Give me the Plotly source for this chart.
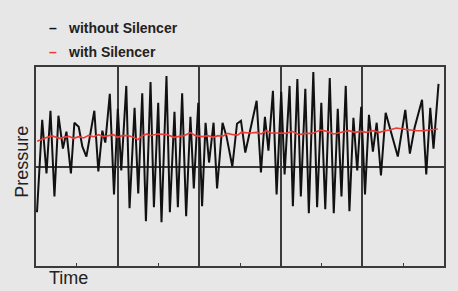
import plotly.graph_objects as go

# ---- data ----
time_without = [0.24, 1.52, 2.57, 3.55, 4.52, 5.50, 6.60, 7.46, 8.56, 9.41, 10.46, 11.37, 12.35, 14.30, 15.28,
                16.26, 16.99, 18.09, 19.12, 20.05,
                20.90, 22.13, 22.93, 24.16, 25.06, 26.04, 26.94, 28.07, 28.90, 29.95, 30.76, 31.98, 32.81,
                33.94, 34.77, 35.82, 36.80, 37.85, 38.68, 39.78, 40.71,
                41.56, 42.42, 43.52, 44.38, 45.72, 46.70, 48.12, 49.27, 50.24, 51.30, 54.08, 55.13, 56.11,
                56.97, 58.07, 58.97, 60.10,
                60.93, 62.15, 62.96, 64.06, 64.91, 66.01, 66.87, 67.97, 68.90, 69.93, 70.90, 72.00, 72.98,
                73.96, 74.87, 75.92, 76.82, 77.80, 78.73, 79.71, 80.64,
                81.61, 82.57, 83.50, 84.55, 85.70, 88.68, 90.51, 91.64, 92.79, 94.62, 95.65, 96.63, 97.43, 98.66]
pressure_without = [-46, 47, -7, 56, -30, 51, 18, 35, -7, 44, 40, 20, 10, 56, -5,
                    36, 24, 73, -28, 58,
                    -4, 81, -42, 59, -27, 73.5, -55, 85, -41, 64, -56, 91, -46,
                    55, -41, 73.5, -50, 50, -22, 64, -40,
                    44, 4, 44, -22, 44, 30, 0, 43, 46, 14, 66, -6, 50,
                    16, 76, -28, 75,
                    -8, 81, -40, 88, -30, 78, -47, 95, -41, 64, -43, 89, -47,
                    58, -30, 81, -45, 49, -4, 60, -28,
                    52, 15, 44, -9, 54, 10, 57, 13, 39, 67, -8, 59, 18, 83]

time_with = [0.29, 1.52, 2.74, 3.96, 4.77, 5.75, 6.80, 8.02, 9.24, 10.46, 11.69, 12.91, 14.13, 15.35, 16.58,
             17.80, 19.02, 19.93, 21.15, 22.37, 23.59, 24.99, 26.04, 27.26, 28.07, 29.71, 31.34, 32.15,
             33.79, 35.01, 36.23, 37.85, 39.07, 40.71, 42.18, 43.40, 44.62, 45.84, 47.07, 48.29, 49.51,
             50.32, 51.54, 52.76, 53.99, 55.21, 56.43, 57.65, 59.29, 61.17, 62.79, 64.43, 66.06, 67.68,
             69.73, 71.34, 72.98, 74.62, 76.65, 78.29, 79.51, 80.98, 82.59, 84.23, 85.45, 86.67, 88.31,
             89.93, 91.56, 93.20, 94.82, 96.45, 98.48]
pressure_with = [25.3, 27.7, 29.3, 30.7, 29.3, 28.3, 29.3, 30.3, 28.3, 30, 28.7, 31.3, 30, 32, 30,
                 31, 32, 29.3, 31, 31, 30, 27, 31, 32.7, 31, 32.7, 32, 32,
                 29.3, 30, 31, 34, 31, 30, 31, 29.3, 31, 30.7, 33.3, 32, 31.7,
                 34.3, 33.7, 33.7, 34.3, 32.7, 36, 33.7, 33.7, 33.3, 35.3, 32, 33.3, 33.3,
                 36.7, 35.3, 32.7, 34.3, 36, 34.3, 35.3, 34.3, 36, 34.3, 36, 36.7, 38.7,
                 37.7, 36.7, 36, 36, 36.7, 37.7]

grid_positions = [20, 40, 60, 80]
tick_positions = [10, 30, 50, 70, 90]
series_names = ["without Silencer", "with Silencer"]
series_colors = ["#111111", "#ee3a32"]

BG = "#e7e7e7"
FRAME = "#3a3a3a"
FONT = "Arial, Liberation Sans, sans-serif"

fig = go.Figure()
fig.add_trace(go.Scatter(x=time_without, y=pressure_without, mode="lines", name=series_names[0],
                         line=dict(color=series_colors[0], width=2), showlegend=False))
fig.add_trace(go.Scatter(x=time_with, y=pressure_with, mode="lines", name=series_names[1],
                         line=dict(color=series_colors[1], width=1.6), showlegend=False))

fig.update_layout(
    width=458, height=291,
    margin=dict(l=36, r=12, t=67, b=25),
    paper_bgcolor=BG, plot_bgcolor=BG,
    font=dict(family=FONT, color="#222222"),
    xaxis=dict(range=[0, 100], showline=True, mirror=True, linecolor=FRAME, linewidth=1.6,
               tickvals=grid_positions, showgrid=True, gridcolor=FRAME, gridwidth=1.6,
               ticks="", showticklabels=False, zeroline=False,
               minor=dict(tickvals=tick_positions, ticks="inside", ticklen=3, tickwidth=1.4,
                          tickcolor=FRAME, showgrid=False)),
    yaxis=dict(range=[-100, 100], showline=True, mirror=True, linecolor=FRAME, linewidth=1.6,
               tickvals=[0], showgrid=True, gridcolor=FRAME, gridwidth=1.6,
               ticks="", showticklabels=False, zeroline=False),
    showlegend=False,
)

annotations = [
    dict(text="Pressure", textangle=-90, xref="paper", yref="paper", x=-0.033, y=0.522,
         xanchor="center", yanchor="middle", showarrow=False, font=dict(size=18, family=FONT, color="#222")),
    dict(text="Time", xref="paper", yref="paper", x=0.027, y=-0.06,
         xanchor="left", yanchor="middle", showarrow=False, font=dict(size=18, family=FONT, color="#222")),
]
legend_y = [1.1945, 1.074]
for name, color, yy in zip(series_names, series_colors, legend_y):
    annotations.append(dict(text="<b>–</b>", xref="paper", yref="paper", x=0.0415, y=yy,
                            xanchor="center", yanchor="middle", showarrow=False,
                            font=dict(size=14, family=FONT, color=color)))
    annotations.append(dict(text="<b>" + name + "</b>", xref="paper", yref="paper", x=0.073, y=yy,
                            xanchor="left", yanchor="middle", showarrow=False,
                            font=dict(size=14, family=FONT, color="#222")))
fig.update_layout(annotations=annotations)

fig.write_html("out.html", config={"displayModeBar": False},
               post_script="document.body.style.margin='0';document.body.style.padding='0';"
                           "document.body.style.background='%s';" % BG)
